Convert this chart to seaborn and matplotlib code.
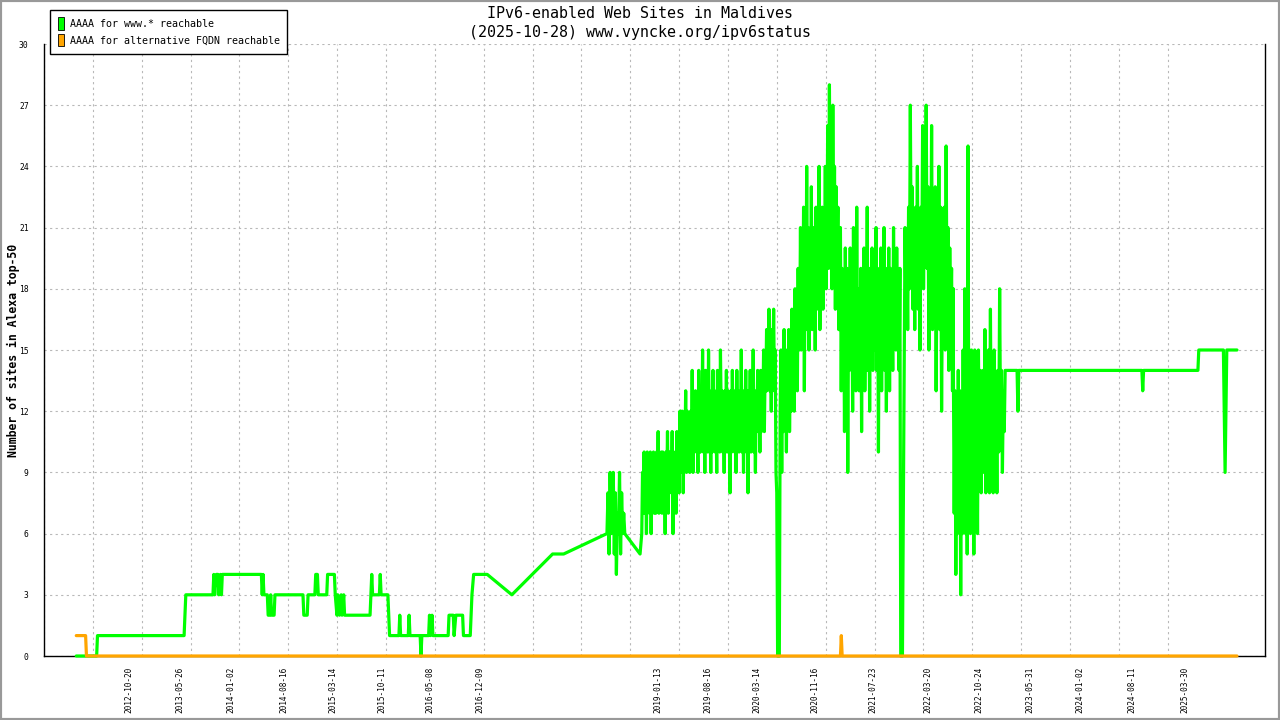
import numpy as np
import pandas as pd
import seaborn as sns
import matplotlib.pyplot as plt
from matplotlib.patches import Patch, Rectangle

# x values are decimal years
# green: AAAA for www.* reachable -- quiet part before 2018
early_years = [2012.18, 2012.42, 2012.43, 2013.45, 2013.46, 2013.47, 2013.79, 2013.80, 2013.81,
               2013.83, 2013.85, 2013.86, 2013.88, 2013.89, 2013.90, 2014.36, 2014.37, 2014.38,
               2014.39, 2014.43, 2014.44, 2014.46, 2014.47, 2014.48, 2014.51, 2014.52, 2014.85,
               2014.86, 2014.90, 2014.91, 2014.99, 2015.00, 2015.02, 2015.03, 2015.13, 2015.14,
               2015.22, 2015.23, 2015.25, 2015.26, 2015.28, 2015.30, 2015.31, 2015.33, 2015.34,
               2015.64, 2015.65, 2015.66, 2015.67, 2015.75, 2015.76, 2015.77, 2015.85, 2015.86,
               2015.87, 2015.98, 2015.99, 2016.00, 2016.09, 2016.10, 2016.11, 2016.23, 2016.24,
               2016.25, 2016.33, 2016.34, 2016.35, 2016.37, 2016.38, 2016.56, 2016.57, 2016.62,
               2016.63, 2016.65, 2016.73, 2016.74, 2016.82, 2016.84, 2016.86, 2017.02, 2017.31,
               2017.79, 2017.92]
early_vals = [0, 0, 1, 1, 2, 3, 3, 4, 3,
              4, 4, 3, 4, 3, 4, 4, 3, 4,
              3, 3, 2, 2, 3, 2, 2, 3, 3,
              2, 2, 3, 3, 4, 4, 3, 3, 4,
              4, 3, 2, 3, 2, 3, 2, 3, 2,
              2, 3, 4, 3, 3, 4, 3, 3, 2,
              1, 1, 2, 1, 1, 2, 1, 1, 0,
              1, 1, 2, 1, 2, 1, 1, 2, 2,
              1, 2, 2, 1, 1, 3, 4, 4, 3,
              5, 5]

# noisy period 2018-2023: (start, end) of each stretch and its samples, left to right
seg_bounds = [(2018.43, 2018.64), (2018.84, 2019.29), (2019.29, 2019.53), (2019.53, 2020.31),
              (2020.31, 2020.43), (2020.47, 2020.70), (2020.70, 2021.02), (2021.02, 2021.17),
              (2021.17, 2021.41), (2021.41, 2021.59), (2021.59, 2021.88), (2021.92, 2022.20),
              (2022.20, 2022.51), (2022.51, 2022.74), (2022.74, 2023.12)]
seg_values = [
    [6, 8, 5, 9, 6, 7, 9, 5, 8, 4, 7, 6, 9, 5, 8, 6, 7, 6],
    [6, 9, 7, 10, 7, 9, 6, 10, 8, 9, 7, 10, 6, 9, 8, 10, 7, 9, 7, 10, 8, 11, 7, 9, 8, 10, 7, 10,
     8, 9, 6, 10, 8, 11, 7, 10, 9, 10, 8, 11, 6, 9, 8, 10, 7, 11, 9, 10, 8, 12],
    [10, 12, 9, 12, 8, 11, 10, 13, 9, 12, 10, 11, 9, 12, 10, 14, 9, 12, 10, 13, 11, 12, 9, 14,
     10, 12],
    [10, 13, 11, 15, 10, 13, 9, 14, 11, 13, 10, 15, 11, 12, 9, 13, 10, 14, 11, 13, 10, 12, 9, 14,
     11, 13, 10, 15, 12, 13, 10, 12, 9, 13, 11, 14, 10, 13, 11, 12, 8, 13, 10, 14, 11, 13, 10, 12,
     9, 14, 11, 13, 10, 12, 11, 15, 10, 13, 9, 12, 11, 14, 10, 13, 8, 12, 11, 14, 10, 13, 11, 15,
     10, 12, 9, 13, 11, 14, 12, 13, 10, 14, 11, 13, 12, 15, 11, 14, 13, 16],
    [13, 16, 14, 17, 13, 15, 12, 16, 14, 17, 13, 15, 9, 8],
    [12, 15, 9, 14, 11, 16, 12, 14, 10, 15, 13, 16, 11, 14, 12, 17, 13, 15, 12, 18, 14, 16, 13,
     19, 15, 17],
    [16, 21, 15, 19, 17, 22, 13, 20, 16, 24, 18, 21, 15, 20, 17, 23, 16, 21, 18, 20, 15, 22, 17,
     21, 19, 24, 16, 20, 18, 22, 17, 21, 19, 24, 18, 22],
    [20, 26, 19, 28, 21, 25, 18, 27, 20, 24, 17, 23, 19, 22, 16, 21],
    [16, 21, 13, 19, 14, 18, 11, 20, 15, 19, 9, 17, 14, 20, 15, 18, 12, 21, 14, 19, 13, 22, 15,
     18, 13, 17],
    [14, 19, 11, 18, 15, 20, 13, 17, 15, 22, 14, 19, 12, 18, 15, 20, 14, 19, 16, 18],
    [15, 21, 14, 19, 10, 18, 15, 20, 13, 19, 15, 21, 14, 18, 12, 19, 16, 20, 13, 19, 15, 18, 14,
     21, 16, 19, 15, 20, 16, 18, 14, 19],
    [7, 15, 21, 17, 20, 16, 22, 18, 27, 19, 23, 17, 21, 16, 22, 18, 24, 17, 21, 15, 22, 19, 26,
     18, 23, 20, 27, 19],
    [19, 23, 15, 21, 17, 26, 16, 21, 18, 23, 13, 20, 17, 24, 16, 22, 12, 19, 16, 22, 15, 25, 17,
     21, 14, 20, 16, 19, 13, 18],
    [14, 7, 13, 4, 12, 6, 14, 8, 13, 3, 12, 6, 15, 7, 18, 6, 13, 5, 25, 8, 14, 6, 15, 8, 12],
    [13, 5, 15, 8, 13, 6, 15, 9, 14, 8, 12, 14, 9, 16, 8, 13, 10, 15, 8, 17, 9, 14, 8, 15, 10,
     13, 8, 14, 10, 18, 11, 14, 9, 13, 11, 14],
]
# short points between stretches (after stretch i)
gap_years = {0: [2018.82], 4: [2020.44, 2020.46], 10: [2021.89, 2021.91]}
gap_vals = {0: [5], 4: [0, 0], 10: [0, 0]}

# flat part after 2023
late_years = [2023.26, 2023.27, 2023.28, 2024.73, 2024.74, 2024.75, 2025.39, 2025.40,
              2025.69, 2025.70, 2025.71, 2025.72, 2025.73, 2025.85]
late_vals = [14, 12, 14, 14, 13, 14, 14, 15, 15, 12, 9, 12, 15, 15]

# orange: AAAA for alternative FQDN reachable
orange_years = [2012.18, 2012.29, 2012.30, 2021.18, 2021.19, 2021.20, 2025.85]
orange_vals = [1, 1, 0, 0, 1, 0, 0]

label_dates = ["2012-10-20", "2013-05-26", "2014-01-02", "2014-08-16", "2015-03-14",
               "2015-10-11", "2016-05-08", "2016-12-09", "2019-01-13", "2019-08-16",
               "2020-03-14", "2020-11-16", "2021-07-23", "2022-03-20", "2022-10-24",
               "2023-05-31", "2024-01-02", "2024-08-11", "2025-03-30"]


def dec_year(s):
    d = pd.to_datetime(s)
    return d.year + (d.dayofyear - 1) / (366 if d.is_leap_year else 365)


# build the green series in order
gx = list(early_years)
gy = list(early_vals)
for i, ((a, b), vals) in enumerate(zip(seg_bounds, seg_values)):
    gx += list(np.linspace(a, b, len(vals)))
    gy += vals
    if i in gap_years:
        gx += gap_years[i]
        gy += gap_vals[i]
gx += late_years
gy += late_vals

df_green = pd.DataFrame({'year': gx, 'count': gy})
df_orange = pd.DataFrame({'year': orange_years, 'count': orange_vals})

sns.set_style('white')
plt.rcParams['font.family'] = ['DejaVu Sans Mono']
plt.rcParams['text.color'] = 'black'
plt.rcParams['xtick.color'] = 'black'
plt.rcParams['ytick.color'] = 'black'

fig = plt.figure(figsize=(12.8, 7.2), dpi=100)
ax = fig.add_axes([44 / 1280, 64 / 720, 1221 / 1280, 612 / 720])

sns.lineplot(data=df_green, x='year', y='count', color='#00ff00', lw=2.3,
             estimator=None, sort=False, ax=ax, clip_on=False, zorder=3)
sns.lineplot(data=df_orange, x='year', y='count', color='#ffa500', lw=2.3,
             estimator=None, sort=False, ax=ax, clip_on=False, zorder=4)

ax.set_xlim(2011.80, 2026.18)
ax.set_ylim(0, 30)
ax.set_xlabel('')
ax.set_ylabel('')

# labels sit on their dates, tick marks are a regular grid
ax.set_xticks([dec_year(s) for s in label_dates])
ax.set_xticklabels(label_dates, rotation=90, fontsize=5.6)
ax.tick_params(axis='x', which='major', length=0, pad=8)
ax.set_xticks(2011.80 + 0.5754 * np.arange(0, 24), minor=True)
ax.tick_params(axis='x', which='minor', direction='inout', length=9, width=1, color='black')
ax.xaxis.get_minor_ticks()[1].tick1line.set_visible(False)

ax.set_yticks(range(0, 31, 3))
ax.tick_params(axis='y', direction='out', length=5, width=1, color='black', labelsize=5.8, pad=6)

ax.grid(False)
ax.xaxis.grid(True, which='minor', linestyle=(0, (2, 3)), color='#b8b8b8', lw=0.8)
ax.yaxis.grid(True, which='major', linestyle=(0, (2, 3)), color='#b8b8b8', lw=0.8)

for side in ['left', 'bottom', 'right']:
    ax.spines[side].set_color('black')
    ax.spines[side].set_linewidth(1)
ax.spines['top'].set_visible(False)

handles = [Patch(facecolor='#00ff00', edgecolor='black', lw=0.6, label='AAAA for www.* reachable'),
           Patch(facecolor='#ffa500', edgecolor='black', lw=0.6, label='AAAA for alternative FQDN reachable')]
leg = ax.legend(handles=handles, loc='upper left', bbox_to_anchor=(50 / 1280, 1 - 10 / 720),
                bbox_transform=fig.transFigure, fancybox=False, framealpha=1, edgecolor='black',
                fontsize=7.2, handlelength=0.6, handleheight=1.5, handletextpad=0.6,
                labelspacing=0.45, borderpad=0.75, borderaxespad=0)
leg.get_frame().set_linewidth(1)

fig.text(0.5, 1 - 13 / 720, 'IPv6-enabled Web Sites in Maldives', ha='center', va='center', fontsize=10.8)
fig.text(0.5, 1 - 32 / 720, '(2025-10-28) www.vyncke.org/ipv6status', ha='center', va='center', fontsize=10.8)
fig.text(13 / 1280, 1 - 350 / 720, 'Number of sites in Alexa top-50', rotation=90,
         ha='center', va='center', fontsize=8.3, weight='bold')

fig.patches.append(Rectangle((0, 0), 1, 1, transform=fig.transFigure, fill=False,
                             edgecolor='#999999', lw=3))

fig.savefig('out.png', dpi=100)
